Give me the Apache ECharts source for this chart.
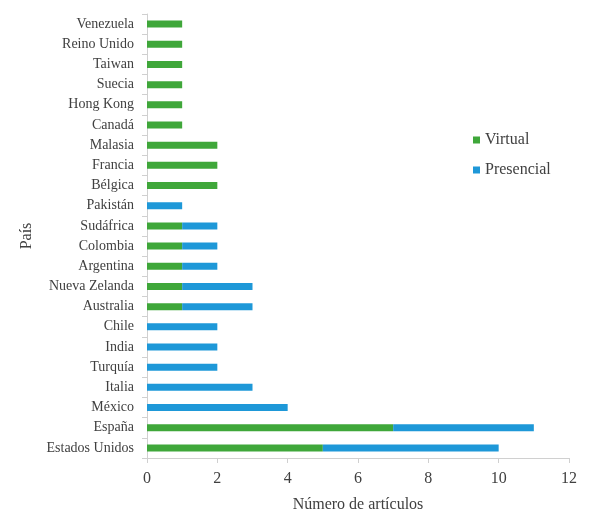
<!DOCTYPE html>
<html>
<head>
<meta charset="utf-8">
<script src="https://cdn.jsdelivr.net/npm/echarts@6/dist/echarts.min.js"></script>
<style>
  html, body { margin: 0; padding: 0; background: #fff; }
  #chart { width: 595px; height: 529px; }
</style>
</head>
<body>
<div id="chart"></div>
<script>
// países, de abajo hacia arriba
var paises = ['Estados Unidos', 'España', 'México', 'Italia', 'Turquía', 'India', 'Chile',
  'Australia', 'Nueva Zelanda', 'Argentina', 'Colombia', 'Sudáfrica', 'Pakistán',
  'Bélgica', 'Francia', 'Malasia', 'Canadá', 'Hong Kong', 'Suecia', 'Taiwan',
  'Reino Unido', 'Venezuela'];
var virtual =    [5, 7, 0, 0, 0, 0, 0, 1, 1, 1, 1, 1, 0, 2, 2, 2, 1, 1, 1, 1, 1, 1];
var presencial = [5, 4, 4, 3, 2, 2, 2, 2, 2, 1, 1, 1, 1, 0, 0, 0, 0, 0, 0, 0, 0, 0];
var ticksX = [0, 2, 4, 6, 8, 10, 12];

var fuente = '"Liberation Serif", "DejaVu Serif", serif';
var gris = '#d0d0d0';

var chart = echarts.init(document.getElementById('chart'));
chart.setOption({
  animation: false,
  textStyle: { fontFamily: fuente },
  grid: { left: 147, right: 26, top: 14, bottom: 71 },
  legend: {
    orient: 'vertical',
    left: 468, top: 127,
    itemWidth: 7, itemHeight: 7, itemGap: 14,
    icon: 'rect',
    textStyle: { fontFamily: fuente, fontSize: 16, color: '#404040' },
    data: ['Virtual', 'Presencial']
  },
  xAxis: {
    type: 'value',
    min: ticksX[0], max: ticksX[ticksX.length - 1], interval: 2,
    name: 'Número de artículos',
    nameLocation: 'middle', nameGap: 39,
    nameTextStyle: { fontFamily: fuente, fontSize: 16, color: '#404040' },
    axisLine: { show: true, lineStyle: { color: gris } },
    axisTick: { show: true, length: 5, lineStyle: { color: gris } },
    axisLabel: { fontFamily: fuente, fontSize: 16, color: '#404040', margin: 13 },
    splitLine: { show: false }
  },
  yAxis: {
    type: 'category',
    data: paises,
    name: 'País',
    nameLocation: 'middle', nameGap: 112, nameRotate: 90,
    nameTextStyle: { fontFamily: fuente, fontSize: 16, color: '#404040' },
    axisLine: { show: true, lineStyle: { color: gris } },
    axisTick: { show: true, length: 5, lineStyle: { color: gris } },
    axisLabel: { fontFamily: fuente, fontSize: 14, color: '#404040', margin: 13 }
  },
  series: [
    { name: 'Virtual', type: 'bar', stack: 'total', data: virtual,
      barWidth: 7, itemStyle: { color: '#3fa73a' } },
    { name: 'Presencial', type: 'bar', stack: 'total', data: presencial,
      barWidth: 7, itemStyle: { color: '#1e98d8' } }
  ]
});
</script>
</body>
</html>
